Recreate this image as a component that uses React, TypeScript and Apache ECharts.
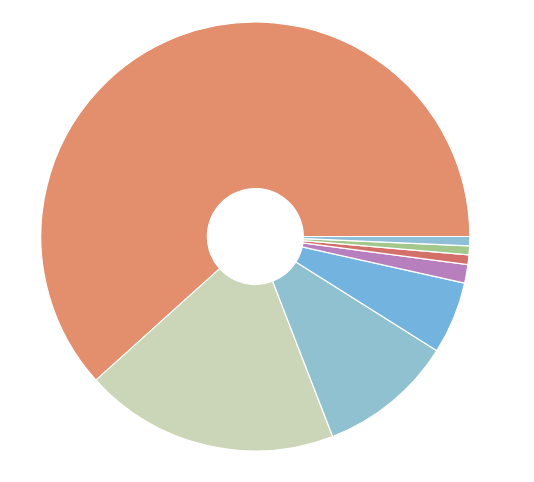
import React, { useEffect, useRef } from "react";
import * as echarts from "echarts";

const categories = ["A", "B", "C", "D", "E", "F", "G", "H"];
const values = [222.0, 69.1, 36.7, 19.6, 5.0, 2.65, 2.4, 2.5];
const colors = ["#e38e6c", "#cbd5b8", "#8fc1d0", "#73b3e0", "#b77fbd", "#d4706a", "#a2c98b", "#8fbfd6"];

export default function App() {
  const ref = useRef<HTMLDivElement>(null);
  useEffect(() => {
    if (!ref.current) return;
    const chart = echarts.init(ref.current, undefined, { renderer: "svg" });
    chart.setOption({
      animation: false,
      series: [
        {
          type: "pie",
          center: [255.3, 236.5],
          radius: [48, 214.5],
          startAngle: 0,
          clockwise: false,
          label: { show: false },
          labelLine: { show: false },
          itemStyle: { borderColor: "#ffffff", borderWidth: 1.2 },
          data: categories.map((name, i) => ({
            name,
            value: values[i],
            itemStyle: { color: colors[i] },
          })),
        },
      ],
    });
    return () => chart.dispose();
  }, []);
  return (
    <div
      ref={ref}
      style={{ position: "fixed", left: 0, top: 0, width: 534, height: 482 }}
    />
  );
}
